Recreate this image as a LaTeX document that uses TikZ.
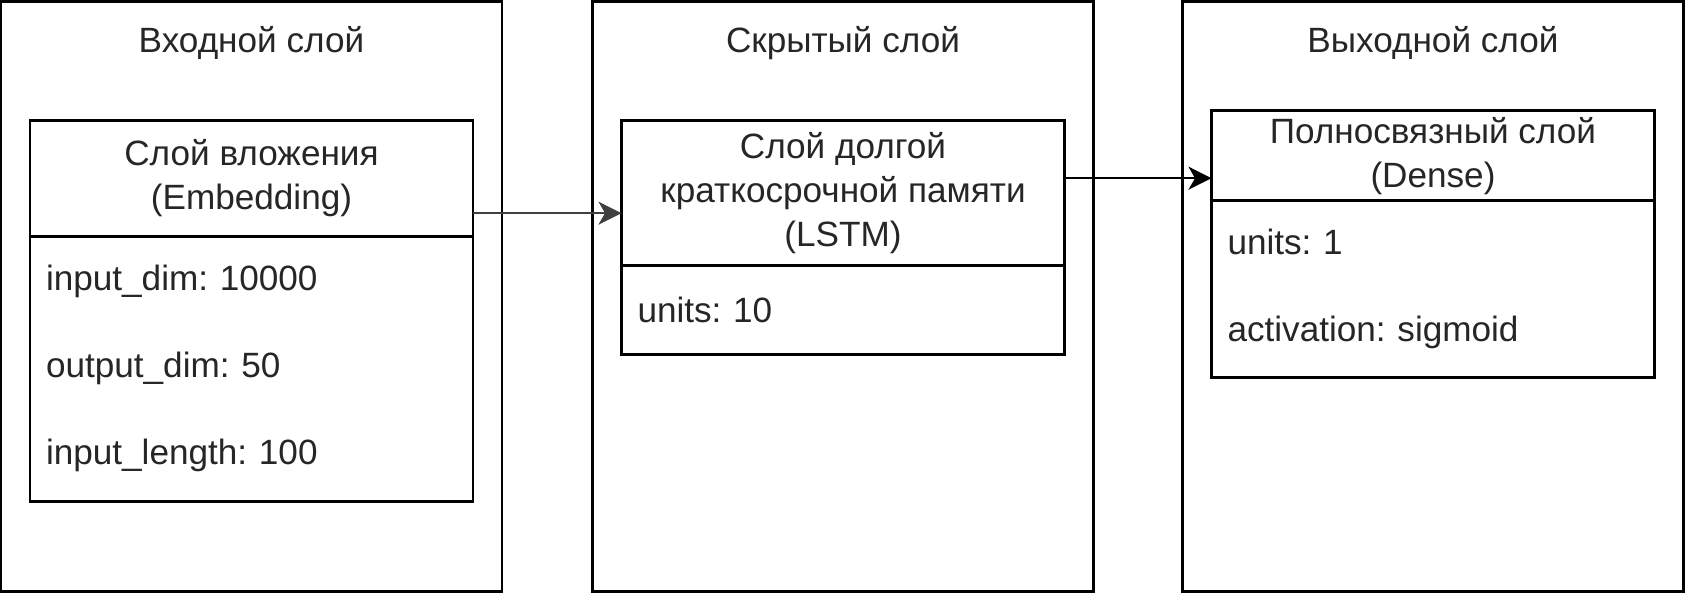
\documentclass[tikz,border=0pt]{standalone}
\usepackage{fontspec}
\setmainfont{Liberation Sans}
\frenchspacing
\usetikzlibrary{arrows.meta,positioning}
\begin{document}
\begin{tikzpicture}[
    font=\fontsize{20pt}{25pt}\selectfont,
    layer/.style={rectangle,draw=black,line width=1.5pt,minimum width=10.02cm,minimum height=11.8cm,inner sep=0pt},
    head/.style={rectangle,draw=black,line width=1.5pt,outer sep=0pt,minimum width=8.86cm,inner sep=0pt,align=center,text=black!85},
    body/.style={rectangle,draw=black,line width=1.5pt,outer sep=0pt,inner xsep=0.32cm,inner ysep=0pt,text width=8.22cm,align=left,text=black!85},
    title/.style={text=black!85},
    arr/.style={-{Stealth[length=0.46cm,width=0.46cm,inset=0.13cm]},line width=1.3pt}]
    \useasboundingbox (0,0) rectangle (33.7,-11.86);
    % outer layers
    \node[layer] (inp) at (5.03,-5.93) {};
    \node[layer] (hid) at (16.86,-5.93) {};
    \node[layer] (out) at (28.66,-5.93) {};
    \node[title] (inptitle) at ([yshift=-0.86cm]inp.north) {Входной слой};
    \node[title] (hidtitle) at ([yshift=-0.86cm]hid.north) {Скрытый слой};
    \node[title] (outtitle) at ([yshift=-0.86cm]out.north) {Выходной слой};
    % inner blocks
    \node[head,minimum height=2.32cm,anchor=north] (embhead) at ([yshift=-2.40cm]inp.north) {Слой вложения\\(Embedding)};
    \node[body,minimum height=5.3cm,below=0pt of embhead] (embbody) {input\_dim: 10000\\[0.86cm]output\_dim: 50\\[0.86cm]input\_length: 100};
    \node[head,minimum height=2.90cm,anchor=north] (lstmhead) at ([yshift=-2.40cm]hid.north) {Слой долгой\\краткосрочной памяти\\(LSTM)};
    \node[body,minimum height=1.78cm,below=0pt of lstmhead] (lstmbody) {units: 10};
    \node[head,minimum height=1.80cm,anchor=north] (densehead) at ([yshift=-2.21cm]out.north) {Полносвязный слой\\(Dense)};
    \node[body,minimum height=3.54cm,below=0pt of densehead] (densebody) {units: 1\\[0.86cm]activation: sigmoid};
    % connectors
    \coordinate (a1) at ([yshift=0.46cm]embhead.south east);
    \coordinate (a2) at ([yshift=-1.16cm]lstmhead.north east);
    \draw[arr,draw=black!75,fill=black] (a1) -- (a1 -| lstmhead.west);
    \draw[arr] (a2) -- (a2 -| densehead.west);
\end{tikzpicture}
\end{document}
